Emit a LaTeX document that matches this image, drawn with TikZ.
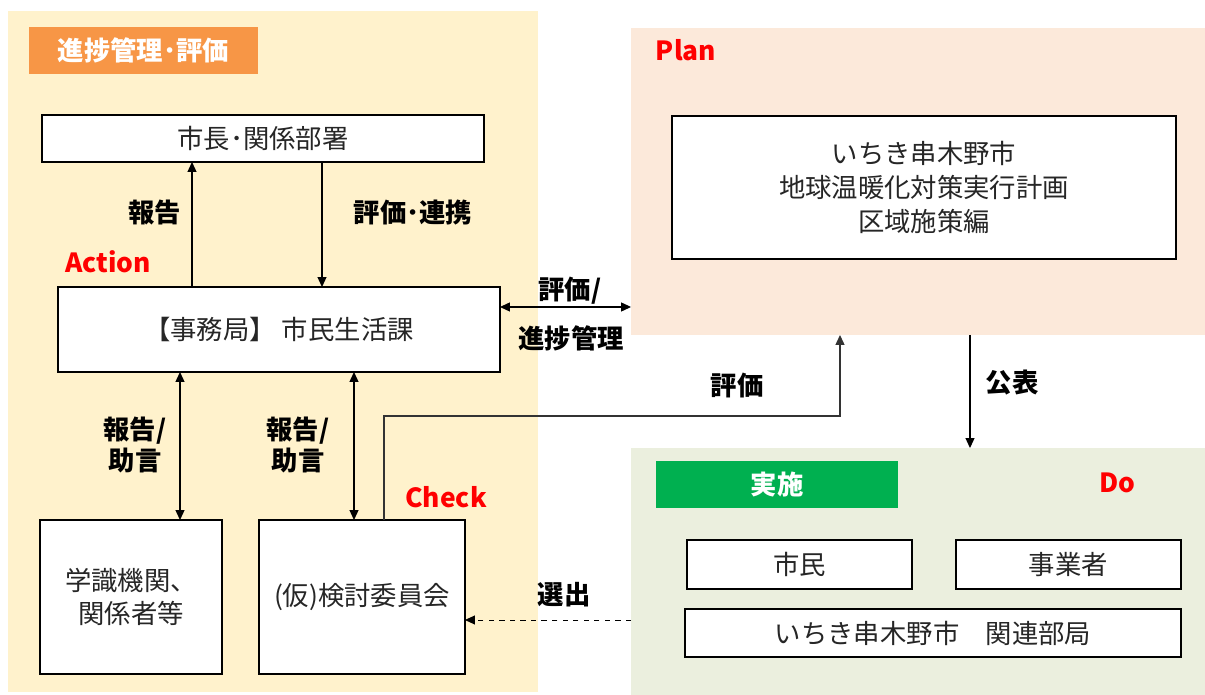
\documentclass[tikz,border=0pt]{standalone}
\usepackage{fontspec}
\setmainfont{Noto Sans CJK JP}
\usetikzlibrary{arrows.meta}
\definecolor{panelY}{HTML}{FFF2CC}
\definecolor{panelP}{HTML}{FCE9DA}
\definecolor{panelG}{HTML}{EBEFDE}
\definecolor{headO}{HTML}{F79646}
\definecolor{headG}{HTML}{00B050}
\tikzset{
  arr/.style={line width=0.7pt, -{Triangle[length=2mm, width=1.8mm]}},
  both/.style={line width=0.7pt, {Triangle[length=2mm, width=1.8mm]}-{Triangle[length=2mm, width=1.8mm]}},
  panel/.style={draw=none, inner sep=0pt, outer sep=0pt},
  box/.style={draw, line width=1pt, fill=white, align=center, inner sep=0pt, outer sep=0pt,
    text=black!85, font=\fontsize{15}{19}\selectfont},
  head/.style={inner sep=0pt, outer sep=0pt, text=white, font=\fontsize{15}{18}\selectfont\bfseries},
  lbl/.style={align=center, font=\fontsize{15}{18}\selectfont\bfseries},
  pdca/.style={text=red, font=\fontsize{15}{18}\selectfont\bfseries},
}

\begin{document}
\begin{tikzpicture}[x=0.02cm, y=-0.02cm]
\useasboundingbox (0,0) rectangle (1205,695);

% panels
\node[panel, fill=panelY, minimum width=10.6cm, minimum height=13.62cm] (checkP) at (273,351.5) {};
\node[panel, fill=panelP, minimum width=11.48cm, minimum height=6.14cm] (planP) at (918,181.5) {};
\node[panel, fill=panelG, minimum width=11.48cm, minimum height=4.94cm] (doP) at (918,571.5) {};

\node[head, fill=headO, minimum width=4.58cm, minimum height=0.94cm] (headL) at (143.5,50.5) {進捗管理･評価};
\node[head, fill=headG, minimum width=4.84cm, minimum height=0.94cm] (headD) at (777,484.5) {実施};

\node[pdca] (act) at (108,262) {Action};
\node[pdca] (pln) at (686,50) {Plan};
\node[pdca] (chk) at (446,497) {Check};
\node[pdca] (dos) at (1117,483) {Do};

% boxes
\node[box, minimum width=8.84cm, minimum height=0.94cm] (mayor) at (263,138.5) {市長･関係部署};
\node[box, minimum width=8.84cm, minimum height=1.7cm] (office) at (279,329.5) {【事務局】 市民生活課};
\node[box, minimum width=3.64cm, minimum height=3.08cm] (experts) at (131,597) {学識機関、\\関係者等};
\node[box, minimum width=4.12cm, minimum height=3.08cm] (comm) at (362,597) {(仮)検討委員会};
\node[box, minimum width=10.08cm, minimum height=2.86cm, font=\fontsize{15}{19.5}\selectfont] (plan) at (924,187.5) {いちき串木野市\\地球温暖化対策実行計画\\区域施策編};
\node[box, minimum width=4.5cm, minimum height=0.98cm] (citizen) at (799.5,564.5) {市民};
\node[box, minimum width=4.5cm, minimum height=0.98cm] (biz) at (1068.5,564.5) {事業者};
\node[box, minimum width=9.92cm, minimum height=0.96cm] (depts) at (933,633) {いちき串木野市\quad 関連部局};

% connectors
\draw[arr] (192,0 |- office.north) -- (192,0 |- mayor.south);
\draw[arr] (322,0 |- mayor.south) -- (322,0 |- office.north);
\draw[both] (180,0 |- office.south) -- (180,0 |- experts.north);
\draw[both] (354,0 |- office.south) -- (354,0 |- comm.north);
\draw[both] (office.east |- 0,307) -- (planP.west |- 0,307);
\draw[arr, black!80] (384,0 |- comm.north) |- (840,416) -- (840,0 |- planP.south);
\draw[arr] (970,0 |- planP.south) -- (970,0 |- doP.north);
\draw[arr, dashed, line width=0.5pt] (doP.west |- 0,620) -- (comm.east |- 0,620);

% labels
\node[lbl] (lRep) at (155,213) {報告};
\node[lbl] (lEval) at (413,213) {評価･連携};
\node[lbl] (lLinkA) at (570,291) {評価/};
\node[lbl] (lLinkB) at (571,338) {進捗管理};
\node[lbl] (lPlanEval) at (737,386) {評価};
\node[lbl] (lPub) at (1012,383) {公表};
\node[lbl] (lAdvA) at (135,445) {報告/\\助言};
\node[lbl] (lAdvB) at (298,445) {報告/\\助言};
\node[lbl] (lSel) at (564,595) {選出};

\end{tikzpicture}
\end{document}
